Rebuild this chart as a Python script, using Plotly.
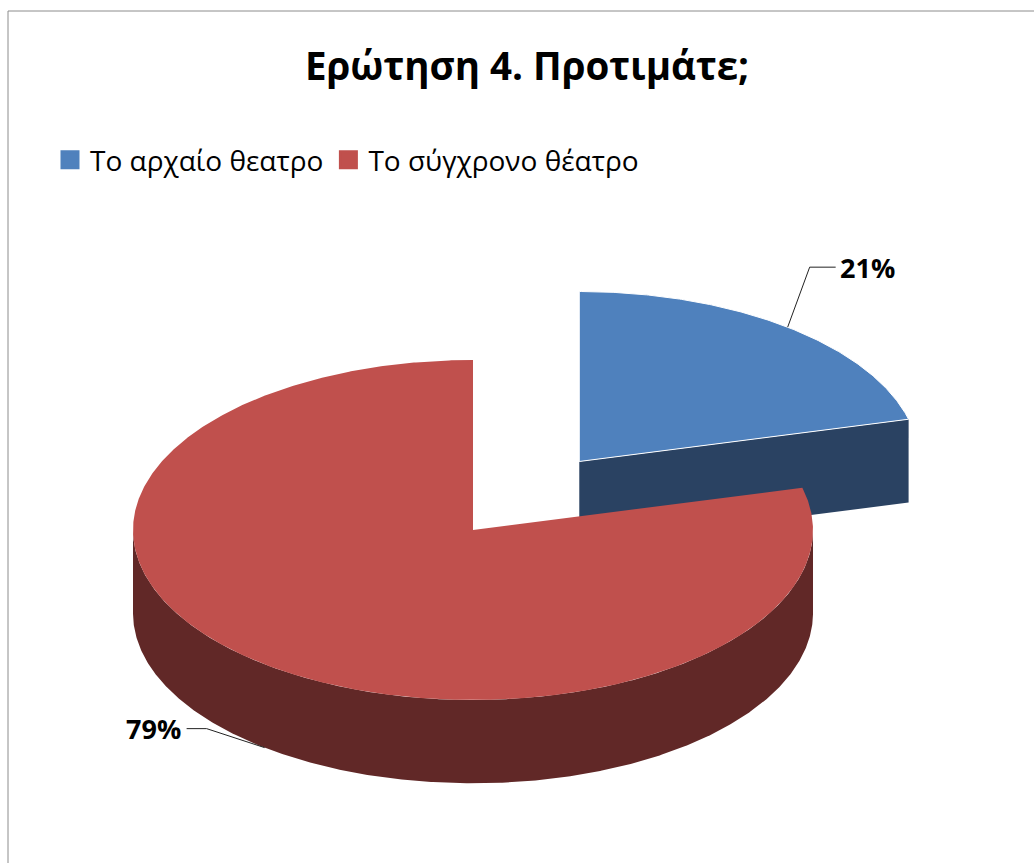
import numpy as np
import plotly.graph_objects as go

# ---- data ----
labels = ["Το αρχαίο θεατρο", "Το σύγχρονο θέατρο"]
values = [21, 79]
title_text = "Ερώτηση 4. Προτιμάτε;"

# ---- style ----
top_colors = ["#4F81BD", "#C0504D"]
side_colors = ["#2A4262", "#612827"]
explode = [0.51, 0.0]
RY = 0.5        # vertical squash of the tilted pie
DEPTH = 0.245   # thickness of the 3D pie
FONT = "Open Sans"

fig = go.Figure()

total = float(sum(values))
slices = []
start = 90.0
for i, v in enumerate(values):
    span = 360.0 * v / total
    a0, a1 = start, start - span
    mid = (a0 + a1) / 2
    ox = explode[i] * np.cos(np.radians(mid))
    oy = explode[i] * RY * np.sin(np.radians(mid))
    slices.append(dict(i=i, a0=a0, a1=a1, mid=mid, ox=ox, oy=oy,
                       depth_key=oy + RY * np.sin(np.radians(mid))))
    start = a1


def add_poly(xs, ys, color, line_color=None, lw=0):
    fig.add_trace(go.Scatter(
        x=list(xs), y=list(ys), mode="lines", fill="toself",
        fillcolor=color, line=dict(width=lw, color=line_color or color),
        hoverinfo="skip", showlegend=False))


# draw back slices first
for s in sorted(slices, key=lambda d: -d["depth_key"]):
    i, a0, a1, ox, oy = s["i"], s["a0"], s["a1"], s["ox"], s["oy"]
    n = max(int(abs(a0 - a1) * 3), 10)
    t = np.radians(np.linspace(a0, a1, n))
    ex = ox + np.cos(t)
    ey = oy + RY * np.sin(t)

    # radial faces
    for ang, sign in ((a0, 1), (a1, -1)):
        c = np.cos(np.radians(ang))
        visible = (c < -1e-6) if sign == 1 else (c > 1e-6)
        if visible:
            px = ox + np.cos(np.radians(ang))
            py = oy + RY * np.sin(np.radians(ang))
            add_poly([ox, px, px, ox, ox], [oy, py, py - DEPTH, oy - DEPTH, oy],
                     side_colors[i])

    # outer side (front-facing part)
    front = np.sin(t) <= 0
    idx = np.where(front)[0]
    if len(idx):
        runs = np.split(idx, np.where(np.diff(idx) != 1)[0] + 1)
        for r in runs:
            if len(r) < 2:
                continue
            xs = np.concatenate([ex[r], ex[r][::-1]])
            ys = np.concatenate([ey[r], (ey[r] - DEPTH)[::-1]])
            add_poly(xs, ys, side_colors[i])

    # top face
    add_poly(np.concatenate([[ox], ex, [ox]]), np.concatenate([[oy], ey, [oy]]),
             top_colors[i], line_color="white", lw=1 if explode[i] > 0 else 0)

# ---- data labels with leader lines ----
PX = 1 / 340.0  # one pixel in data units
for s in slices:
    i, mid, ox, oy = s["i"], s["mid"], s["ox"], s["oy"]
    m = np.radians(mid)
    ax_ = ox + np.cos(m)
    ay_ = oy + RY * np.sin(m)
    pct = f"{round(values[i] / total * 100)}%"
    if np.sin(m) < 0:
        ay_ -= DEPTH
    if np.cos(m) >= 0:
        ex_, ey_ = ax_ + 22 * PX, ay_ + 60 * PX
        tx = ex_ + 26 * PX
        xanchor = "left"
    else:
        ex_, ey_ = ax_ - 58 * PX, ay_ + 19 * PX
        tx = ex_ - 20 * PX
        xanchor = "right"
    fig.add_trace(go.Scatter(x=[ax_, ex_, tx], y=[ay_, ey_, ey_], mode="lines",
                             line=dict(color="#222222", width=1),
                             hoverinfo="skip", showlegend=False))
    fig.add_annotation(x=tx, y=ey_, text=pct, showarrow=False, xanchor=xanchor,
                       yanchor="middle", xshift=2 if xanchor == "left" else -4,
                       font=dict(family=FONT, size=27, color="black", weight="bold"))

# ---- legend entries ----
for i, lab in enumerate(labels):
    fig.add_trace(go.Scatter(x=[None], y=[None], mode="markers", name=lab,
                             marker=dict(symbol="square", size=16, color=top_colors[i],
                                         line=dict(width=3, color=top_colors[i]))))

W, H = 1034, 863
cx_px, cy_px = 473, 530
fig.update_layout(
    width=W, height=H,
    margin=dict(l=0, r=0, t=0, b=0),
    paper_bgcolor="white", plot_bgcolor="white",
    xaxis=dict(visible=False, range=[-cx_px / 340, (W - cx_px) / 340], fixedrange=True),
    yaxis=dict(visible=False, range=[-(H - cy_px) / 340, cy_px / 340], fixedrange=True),
    title=dict(text=title_text, x=527 / W, xanchor="center", y=1 - 67 / H, yanchor="middle",
               font=dict(family=FONT, size=38.5, color="black", weight="bold")),
    legend=dict(orientation="h", x=50 / W, xanchor="left", y=1 - 160 / H, yanchor="middle",
                font=dict(family=FONT, size=28, color="black"),
                itemsizing="trace", bgcolor="rgba(0,0,0,0)"),
    shapes=[dict(type="rect", xref="paper", yref="paper",
                 x0=8 / W, x1=1.05, y0=-0.05, y1=1 - 11 / H,
                 line=dict(color="#8C8C8C", width=1), fillcolor="rgba(0,0,0,0)")],
    showlegend=True,
)

fig.write_html("out.html")
